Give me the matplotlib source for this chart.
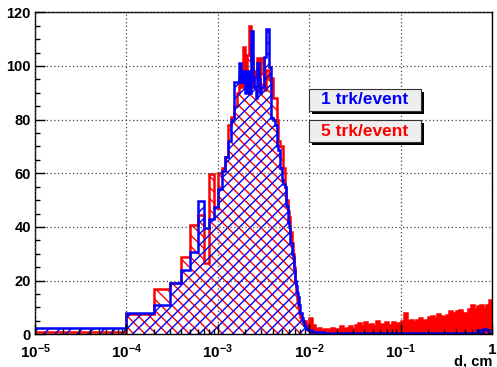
"""
Impact parameter histogram, 1 vs 5 tracks per event (ROOT style look).
"""
import matplotlib
matplotlib.use("Agg")
import matplotlib.pyplot as plt
import numpy as np
from matplotlib.patches import Rectangle
from matplotlib.ticker import FixedLocator, MultipleLocator, NullFormatter

plt.rcParams["font.family"] = ["Liberation Sans", "DejaVu Sans"]
plt.rcParams["font.weight"] = "bold"
plt.rcParams["mathtext.fontset"] = "custom"
plt.rcParams["mathtext.rm"] = "Liberation Sans:bold"
plt.rcParams["mathtext.it"] = "Liberation Sans:bold"
plt.rcParams["mathtext.bf"] = "Liberation Sans:bold"
plt.rcParams["hatch.linewidth"] = 1.0

# --- data -------------------------------------------------------------
# bin edges: 1e-4 wide up to 3e-3, 2e-4 wide up to 1e-2, log bins above
edges_fine = np.concatenate([[1e-6], np.arange(1, 31) * 1e-4])
edges_mid = 3e-3 + np.arange(1, 36) * 2e-4
edges_tail = np.logspace(-2, 0, 61)[1:]
edges = np.concatenate([edges_fine, edges_mid, edges_tail])

blue_fine = [2.5, 7.8, 10.9, 19.0, 24.0, 30.8, 49.8, 39.7, 42.9, 47.6,
             54, 61, 66, 72, 80, 94, 94, 101, 94, 98,
             90, 98, 90, 113, 96, 92, 88, 101, 95, 90]
red_fine = [1.0, 7.5, 16.8, 19.0, 28.7, 40.6, 44.5, 26.7, 59.7, 47,
            60, 62, 66, 78, 81, 85, 90, 96, 92, 107,
            98, 104, 115, 102, 92, 98, 96, 103, 91, 97]

blue_mid = [92, 103.5, 113.7, 99.7, 80.6, 80, 78, 70, 68.7, 62,
            57.5, 56, 55, 48, 42, 40, 34, 30, 28.9, 24,
            20, 18, 15.3, 14, 11, 8, 7.8, 6, 4.5, 3.5,
            2.8, 2.5, 2, 1.6, 1.6]
red_mid = [103, 91, 98.5, 95, 95.4, 88, 88, 80, 72, 70,
           70, 62, 55, 50, 46, 43.8, 38, 34, 30, 25,
           19.6, 16, 12.8, 10, 8, 6.6, 5.5, 5.3, 5, 4.5,
           5, 4, 3.5, 3, 3]

blue_tail = [1.5, 1, 1, 0.8, 0.8, 0.6, 0.5, 0.5, 0.4, 0.4,
             0.4, 0.4, 0.4, 0.4, 0.4, 0.4, 0.4, 0.4, 0.4, 0.4,
             0.4, 0.4, 0.4, 0.4, 0.4, 0.4, 0.4, 0.4, 0.4, 0.4,
             0.4, 0.4, 0.4, 0.4, 0.4, 0.4, 0.4, 0.4, 0.4, 0.4,
             0.4, 0.4, 0.4, 0.4, 0.4, 0.4, 0.4, 0.4, 0.4, 0.4,
             0.4, 0.4, 0.4, 0.4, 0.4, 1.5, 0.4, 2, 1.5, 0.4]
red_tail = [6, 3.5, 2, 2.5, 1.5, 2, 1.5, 2.5, 2, 2,
            3, 2, 2.5, 3, 2, 3.5, 4.2, 3, 4.7, 3.5,
            4, 3, 5, 4, 3.8, 4.5, 3.5, 4.5, 4, 4.1,
            5, 8, 5, 5.5, 4.5, 5.3, 6, 5, 5.5, 6.5,
            7, 6.2, 7.5, 7, 6.5, 7.2, 8.5, 8, 8.7, 9,
            8, 7.8, 9.5, 10.9, 9.5, 10.5, 10.9, 9.8, 11, 12.8]

blue = np.array(blue_fine + blue_mid + blue_tail)
red = np.array(red_fine + red_mid + red_tail)
tail_edges = np.concatenate([[1e-2], edges_tail])

labels = ["1 trk/event", "5 trk/event"]
xticks = [1e-5, 1e-4, 1e-3, 1e-2, 1e-1, 1]
xticklabels = [r"$10^{-5}$", r"$10^{-4}$", r"$10^{-3}$", r"$10^{-2}$", r"$10^{-1}$", r"$1$"]

# --- figure -----------------------------------------------------------
W, H = 497, 367
fig = plt.figure(figsize=(W / 100, H / 100), dpi=100, facecolor="white")
ax = fig.add_axes([35 / W, 1 - 334.3 / H, (492.1 - 35) / W, (334.3 - 12.3) / H])
ax.set_xscale("log")

# red: hatched "\\" , solid in the dense tail
ax.stairs(red, edges, fill=True, facecolor="none", edgecolor="red", hatch="\\\\\\", linewidth=0)
ax.stairs(red_tail, tail_edges, fill=True, color="red", linewidth=0)
ax.stairs(red, edges, color="red", linewidth=1.8, baseline=0)

# blue: hatched "//"
ax.stairs(blue, edges, fill=True, facecolor="none", edgecolor="blue", hatch="///", linewidth=0)
ax.stairs(blue, edges, color="blue", linewidth=1.8, baseline=0)

ax.set_xlim(1e-5, 1)
ax.set_ylim(0, 120)

ax.xaxis.set_major_locator(FixedLocator(xticks))
ax.set_xticklabels(xticklabels)
minor = [m * 10.0 ** e for e in range(-5, 0) for m in range(2, 10)]
ax.xaxis.set_minor_locator(FixedLocator(minor))
ax.xaxis.set_minor_formatter(NullFormatter())
ax.yaxis.set_major_locator(MultipleLocator(20))
ax.yaxis.set_minor_locator(MultipleLocator(5))

ax.tick_params(which="both", direction="in", top=False, right=False, width=1, colors="black")
ax.tick_params(which="major", length=7)
ax.tick_params(which="minor", length=3.5)
ax.tick_params(axis="y", labelsize=10.5, pad=3)
ax.tick_params(axis="x", labelsize=11, pad=6)

ax.grid(True, which="major", color="#444444", linestyle=(0, (1, 2)), linewidth=0.9)
ax.set_axisbelow(False)
for s in ax.spines.values():
    s.set_linewidth(1.0)
    s.set_color("black")

fig.text(492 / W, 1 - 365 / H, "d, cm", ha="right", va="baseline", fontsize=10.5, fontweight="bold")


# legend boxes with shadow (pixel coordinates, top-left origin)
def pave(x0, y0, x1, y1, text, color):
    fig.add_artist(Rectangle((x0 / W + 3 / W, 1 - (y1 + 3) / H), (x1 - x0) / W, (y1 - y0) / H,
                             transform=fig.transFigure, facecolor="black", edgecolor="none"))
    fig.add_artist(Rectangle((x0 / W, 1 - y1 / H), (x1 - x0) / W, (y1 - y0) / H,
                             transform=fig.transFigure, facecolor="#eeeeee", edgecolor="#333333",
                             linewidth=0.8))
    fig.text((x0 + x1) / 2 / W, 1 - (y0 + y1) / 2 / H, text, ha="center", va="center",
             fontsize=12.5, fontweight="bold", color=color)


pave(309, 89, 421, 111, labels[0], "blue")
pave(309, 120, 421, 142, labels[1], "red")

fig.savefig("out.png", dpi=100, facecolor="white")
